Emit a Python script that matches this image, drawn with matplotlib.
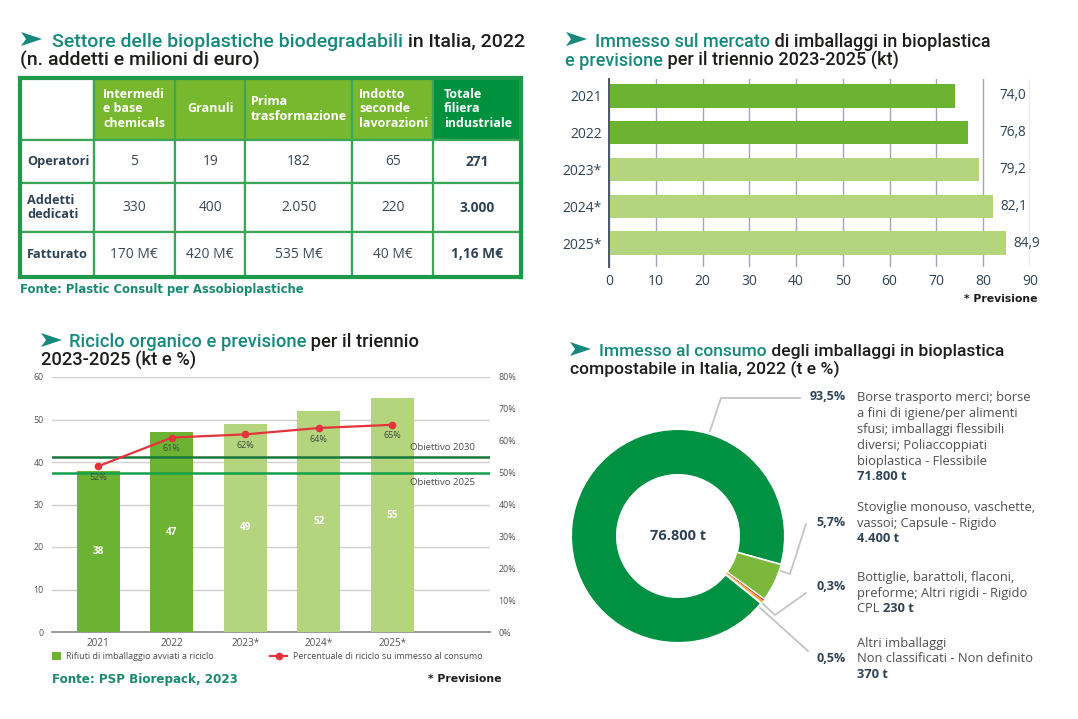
import matplotlib
matplotlib.use("Agg")
import matplotlib.pyplot as plt
from matplotlib.table import Table

# ---------------- data ----------------
tab_cols = ["", "Intermedi\ne base\nchemicals", "Granuli", "Prima\ntrasformazione",
            "Indotto\nseconde\nlavorazioni", "Totale\nfiliera\nindustriale"]
tab_rows = ["Operatori", "Addetti\ndedicati", "Fatturato"]
operatori = ["5", "19", "182", "65", "271"]
addetti = ["330", "400", "2.050", "220", "3.000"]
fatturato = ["170 M€", "420 M€", "535 M€", "40 M€", "1,16 M€"]

mkt_years = ["2021", "2022", "2023*", "2024*", "2025*"]
mkt_kt = [74.0, 76.8, 79.2, 82.1, 84.9]
mkt_forecast = [False, False, True, True, True]

ric_years = ["2021", "2022", "2023*", "2024*", "2025*"]
ric_kt = [38, 47, 49, 52, 55]
ric_pct = [52, 61, 62, 64, 65]
ric_forecast = [False, False, True, True, True]
obiettivi = [("Obiettivo 2030", 55), ("Obiettivo 2025", 50)]

cons_t = [4400, 230, 370, 71800]
cons_pct = ["5,7%", "0,3%", "0,5%", "93,5%"]
cons_total = "76.800 t"

W, H = 1078, 719
TEAL = "#17897c"
INK = "#1d1d1b"
SLATE = "#2f4356"
DARK_G = "#6cb233"
LIGHT_G = "#b4d47d"
OS = "Open Sans"
TF = "Roboto"

fig = plt.figure(figsize=(W / 100, H / 100), dpi=100)

# background axes in pixel coords for titles / notes / leader lines
bg = fig.add_axes([0, 0, 1, 1], zorder=0)
bg.set_xlim(0, W)
bg.set_ylim(H, 0)
bg.axis("off")


def rect(l, t, r, b):
    return [l / W, 1 - b / H, (r - l) / W, (b - t) / H]


def arrow(x, y):
    bg.fill([x, x + 21, x, x + 5], [y, y + 7, y + 14, y + 7], color=TEAL, lw=0)


def title(x, y, parts, size=11):
    arts = [bg.text(x, y, parts[0][0], color=parts[0][1], fontsize=size, family=TF,
                    weight="medium", va="baseline")]
    for s, c in parts[1:]:
        arts.append(bg.annotate(s, xy=(1, 0), xycoords=arts[-1], va="bottom", ha="left",
                                color=c, fontsize=size, family=TF, weight="medium"))
    return arts


titles = []  # (line1 artists, line2 artists, target right edge of line 1)

# ---------------- panel 1: table ----------------
arrow(21, 32)
titles.append((title(52, 47, [("Settore delle bioplastiche biodegradabili", TEAL),
                              (" in Italia, 2022", INK)]),
               title(20, 66, [("(n. addetti e milioni di euro)", INK)]), 522))

ax1 = fig.add_axes(rect(20, 78, 521, 277), zorder=2)
ax1.set_xticks([])
ax1.set_yticks([])
ax1.set_facecolor("none")
for sp in ax1.spines.values():
    sp.set_color("#1f9a4a")
    sp.set_linewidth(3)
    sp.set_zorder(5)

col_w = [73.5, 81.5, 70.5, 106.5, 81.5, 87.5]
row_h = [62, 43, 49, 45]
head_pad = [0.1, 0.12, 0.1, 0.05, 0.085, 0.12]
tbl = Table(ax1, bbox=[0, 0, 1, 1])
body = [operatori, addetti, fatturato]
for c, lab in enumerate(tab_cols):
    fc = "white" if c == 0 else ("#00913f" if c == 5 else "#78b82f")
    loc = "center" if lab == "Granuli" else "left"
    cell = tbl.add_cell(0, c, col_w[c], row_h[0], text=lab, loc=loc,
                        facecolor=fc, edgecolor="#3aa657")
    cell.PAD = head_pad[c]
    cell.get_text().set(color="white", fontsize=9, family=OS, weight="bold", linespacing=1.15)
for r, lab in enumerate(tab_rows):
    cell = tbl.add_cell(r + 1, 0, col_w[0], row_h[r + 1], text=lab, loc="left",
                        facecolor="white", edgecolor="#3aa657")
    cell.PAD = 0.1
    cell.get_text().set(color=SLATE, fontsize=9.2, family=OS, weight="bold", linespacing=1.2)
    for c, val in enumerate(body[r]):
        cell = tbl.add_cell(r + 1, c + 1, col_w[c + 1], row_h[r + 1], text=val, loc="center",
                            facecolor="white", edgecolor="#3aa657")
        cell.get_text().set(color=SLATE if c == 4 else "#3b4756", fontsize=9.9, family=OS,
                            weight="bold" if c == 4 else "normal")
for cell in tbl.get_celld().values():
    cell.set_linewidth(1.6)
tbl.auto_set_font_size(False)
ax1.add_table(tbl)

bg.text(20, 289, "Fonte: Plastic Consult per Assobioplastiche", color="#198a70",
        fontsize=8.4, family="DejaVu Sans", weight="bold", va="center")

# ---------------- panel 2: horizontal bars ----------------
arrow(566, 32)
titles.append((title(595, 47, [("Immesso sul mercato", TEAL), (" di imballaggi in bioplastica", INK)]),
               title(565, 66, [("e previsione", TEAL), (" per il triennio 2023-2025 (kt)", INK)]),
               990))

ax2 = fig.add_axes(rect(609, 79, 1030, 267), zorder=2)
ax2.set_facecolor("none")
ypos = list(range(len(mkt_years)))
ax2.barh(ypos, mkt_kt, height=0.63,
         color=[LIGHT_G if f else DARK_G for f in mkt_forecast], zorder=3)
for y, v in zip(ypos, mkt_kt):
    ax2.text(max(v + 1.5, 83.5), y, f"{v:.1f}".replace(".", ","), va="center", ha="left",
             fontsize=9.8, family=OS, color=SLATE)
ax2.set_xlim(0, 90)
ax2.set_ylim(4.65, -0.46)
ax2.set_xticks(range(0, 91, 10))
ax2.set_yticks(ypos)
ax2.set_yticklabels(mkt_years)
ax2.grid(axis="x", color="#9da8b8", lw=1.0, zorder=1)
for s in ["top", "right", "bottom"]:
    ax2.spines[s].set_visible(False)
ax2.spines["left"].set_color("#4b5668")
ax2.spines["left"].set_linewidth(1.4)
ax2.spines["left"].set_zorder(4)
ax2.tick_params(length=0, labelsize=10, labelcolor=SLATE, pad=5)
for lab in ax2.get_xticklabels() + ax2.get_yticklabels():
    lab.set_family(OS)

bg.text(1038, 299, "* Previsione", ha="right", va="center", fontsize=7.8,
        family="DejaVu Sans", weight="bold", color=INK)

# ---------------- panel 3: bars + line ----------------
arrow(41, 333)
titles.append((title(69, 347, [("Riciclo organico e previsione", TEAL), (" per il triennio", INK)]),
               title(41, 366, [("2023-2025 (kt e %)", INK)]), 417))

ax3 = fig.add_axes(rect(52, 377, 490, 632), zorder=2)
ax3.set_facecolor("none")
xpos = list(range(len(ric_years)))
bars = ax3.bar(xpos, ric_kt, width=0.58,
               color=[LIGHT_G if f else DARK_G for f in ric_forecast], zorder=3,
               label="Rifiuti di imballaggio avviati a riciclo")
for x, v in zip(xpos, ric_kt):
    ax3.text(x, v / 2, str(v), ha="center", va="center", color="white",
             fontsize=7.2, family=OS, weight="bold", zorder=6)
ax3.set_xlim(-0.63, 5.33)
ax3.set_ylim(0, 60)
ax3.set_yticks(range(0, 61, 10))
ax3.set_xticks(xpos)
ax3.set_xticklabels(ric_years)
ax3.grid(axis="y", color="#cfcfcf", lw=1.0, zorder=0)
for s in ["top", "right", "left"]:
    ax3.spines[s].set_visible(False)
ax3.spines["bottom"].set_color("#9a9a9a")
ax3.spines["bottom"].set_linewidth(1.4)
ax3.tick_params(length=0, labelsize=6.4, labelcolor="#555555", pad=6)
ax3.tick_params(axis="x", labelsize=7.2, pad=4)
for lab in ax3.get_xticklabels() + ax3.get_yticklabels():
    lab.set_family(OS)

ax3r = ax3.twinx()
ax3r.set_ylim(0, 80)
ax3r.set_yticks(range(0, 81, 10))
ax3r.set_yticklabels([f"{v}%" for v in range(0, 81, 10)])
for s in ax3r.spines.values():
    s.set_visible(False)
ax3r.tick_params(length=0, labelsize=6.4, labelcolor="#555555", pad=6)
for lab in ax3r.get_yticklabels():
    lab.set_family(OS)
obj_cols = ["#17773c", "#12a04a"]
for (name, v), col, above in zip(obiettivi, obj_cols, [True, False]):
    ax3r.axhline(v, color=col, lw=1.8, zorder=4)
    ax3r.annotate(name, xy=(0.965, v), xycoords=("axes fraction", "data"),
                  xytext=(0, 6.8 if above else -7), textcoords="offset points",
                  ha="right", va="center", fontsize=6.8, family=OS, color="#4a4a4a")
line, = ax3r.plot(xpos, ric_pct, color="#e3343c", lw=1.6, marker="o", ms=4.5, zorder=7,
                  label="Percentuale di riciclo su immesso al consumo")
for x, v in zip(xpos, ric_pct):
    ax3r.annotate(f"{v}%", xy=(x, v), xytext=(0, -8), textcoords="offset points",
                  ha="center", va="center", fontsize=6.5, family=OS, color="#3d4b3d", zorder=8)

leg_kw = dict(loc="upper left", bbox_transform=fig.transFigure, frameon=False,
              prop={"family": OS, "size": 6.5}, handletextpad=0.6, borderaxespad=0,
              borderpad=0, handleheight=1.0)
leg1 = ax3.legend(handles=[bars], bbox_to_anchor=(52 / W, 1 - 652 / H), handlelength=0.95,
                  **leg_kw)
ax3.add_artist(leg1)
leg2 = ax3.legend(handles=[line], bbox_to_anchor=(270 / W, 1 - 652 / H), handlelength=1.9,
                  **leg_kw)
for t in leg1.get_texts() + leg2.get_texts():
    t.set_color("#4a4a4a")

bg.text(52, 679, "Fonte: PSP Biorepack, 2023", color="#198a70", fontsize=8.6,
        family="DejaVu Sans", weight="bold", va="center")
bg.text(501, 679, "* Previsione", ha="right", va="center", fontsize=7.8,
        family="DejaVu Sans", weight="bold", color=INK)

# ---------------- panel 4: donut ----------------
arrow(570, 342)
titles.append((title(599, 356, [("Immesso al consumo", TEAL), (" degli imballaggi in bioplastica", INK)]),
               title(570, 374, [("compostabile in Italia, 2022 (t e %)", INK)]), 1003))

ax4 = fig.add_axes(rect(571, 429, 785, 643), zorder=2)
wedges, _ = ax4.pie(cons_t, colors=["#7bb83b", "#d8342f", "#f2a93b", "#009143"],
                    startangle=-15.5, counterclock=False, radius=1.0,
                    wedgeprops=dict(width=0.43, edgecolor="white", linewidth=0))
# white separators only around the two large slices, so the thin ones stay visible
wedges[0].set_linewidth(1.0)
wedges[3].set_linewidth(1.5)
wedges[0].set_zorder(2)
wedges[3].set_zorder(1)
ax4.set_xlim(-1, 1)
ax4.set_ylim(-1, 1)
ax4.text(0, 0, cons_total, ha="center", va="center", fontsize=10.5, family=OS,
         weight="bold", color=SLATE)

lead = "#c4c4c4"
bg.plot([710, 721, 800], [431, 398, 398], color=lead, lw=1.3)
bg.plot([778, 790, 806], [570, 574, 524], color=lead, lw=1.3)
bg.plot([762, 775, 806], [603, 615, 593], color=lead, lw=1.3)
bg.plot([758, 808], [606, 651], color=lead, lw=1.3)

label_lines = [
    (397, ["Borse trasporto merci; borse", "a fini di igiene/per alimenti",
           "sfusi; imballaggi flessibili", "diversi; Poliaccoppiati",
           "bioplastica - Flessibile"], "", "71.800 t", 3),
    (507, ["Stoviglie monouso, vaschette,", "vassoi; Capsule - Rigido"], "", "4.400 t", 0),
    (577, ["Bottiglie, barattoli, flaconi,", "preforme; Altri rigidi - Rigido"], "CPL ", "230 t", 1),
    (643, ["Altri imballaggi", "Non classificati - Non definito"], "", "370 t", 2),
]
pct_y = {3: 397, 0: 523, 1: 587, 2: 658}
LFS = 9.3
for y0, lines, pre, val, idx in label_lines:
    for i, s in enumerate(lines):
        bg.text(857, y0 + 16 * i, s, fontsize=LFS, family=OS, color="#4f4f4f", va="center")
    yv = y0 + 16 * len(lines)
    if pre:
        t = bg.text(857, yv, pre, fontsize=LFS, family=OS, color="#4f4f4f", va="center")
        bg.annotate(val, xy=(1, 0.5), xycoords=t, va="center", ha="left", fontsize=LFS,
                    family=OS, weight="bold", color=SLATE)
    else:
        bg.text(857, yv, val, fontsize=LFS, family=OS, weight="bold", color=SLATE, va="center")
    bg.text(846, pct_y[idx], cons_pct[idx], ha="right", va="center", fontsize=9,
            family=OS, weight="bold", color=SLATE)

# scale each title so its first line ends where the reference's does
fig.canvas.draw()
rend = fig.canvas.get_renderer()
for line1, line2, right in titles:
    x0 = line1[0].get_window_extent(rend).x0
    x1 = line1[-1].get_window_extent(rend).x1
    k = (right - x0) / (x1 - x0)
    for a in line1 + line2:
        a.set_fontsize(a.get_fontsize() * k)

fig.savefig("out.png", dpi=100)
